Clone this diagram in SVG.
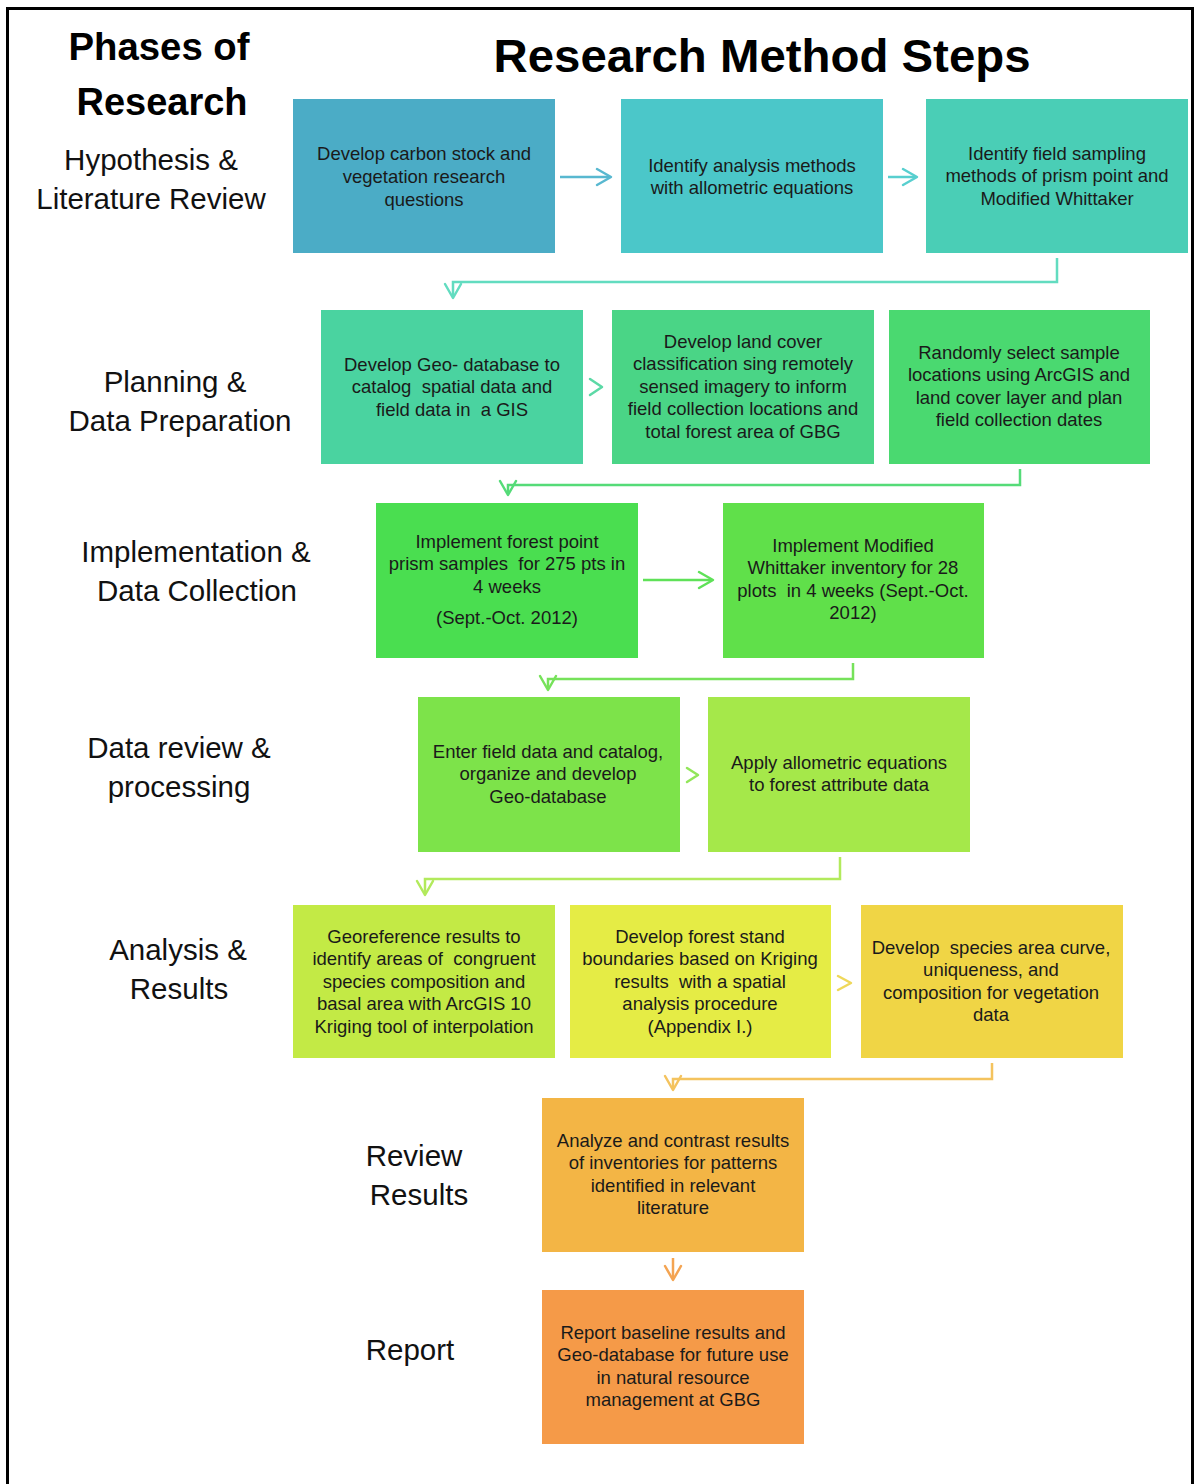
<svg xmlns="http://www.w3.org/2000/svg" width="1195" height="1484" viewBox="0 0 1195 1484">
<defs>
<style>
.title{font-family:"Liberation Sans",Arial,sans-serif;font-weight:bold;fill:#000;}
.phase{font-family:"Liberation Sans",Arial,sans-serif;font-size:29.5px;fill:#111;text-anchor:middle;}
.bt{font-family:"Liberation Sans",Arial,sans-serif;font-size:18.5px;fill:#1a1a1a;text-anchor:middle;white-space:pre;}
.conn{fill:none;stroke-width:2.5;}
.head{fill:none;stroke-width:2.5;stroke-linecap:round;stroke-linejoin:round;}
</style>
</defs>
<rect x="0" y="0" width="1195" height="1484" fill="#ffffff"/>
<rect x="7.5" y="8.5" width="1185" height="1500" fill="none" stroke="#000" stroke-width="3"/>

<g id="titles">
<text class="title" x="159" y="60" font-size="39" text-anchor="middle" textLength="181" lengthAdjust="spacingAndGlyphs">Phases of</text>
<text class="title" x="162" y="115" font-size="39" text-anchor="middle" textLength="171" lengthAdjust="spacingAndGlyphs">Research</text>
<text class="title" x="762" y="72" font-size="47" text-anchor="middle" textLength="537" lengthAdjust="spacingAndGlyphs">Research Method Steps</text>
</g>

<g id="phases">
<text class="phase" x="151" y="170">Hypothesis &amp;</text>
<text class="phase" x="151" y="209">Literature Review</text>
<text class="phase" x="175" y="392">Planning &amp;</text>
<text class="phase" x="180" y="431">Data Preparation</text>
<text class="phase" x="196" y="562">Implementation &amp;</text>
<text class="phase" x="197" y="601">Data Collection</text>
<text class="phase" x="179" y="758">Data review &amp;</text>
<text class="phase" x="179" y="797">processing</text>
<text class="phase" x="178" y="960">Analysis &amp;</text>
<text class="phase" x="179" y="999">Results</text>
<text class="phase" x="414" y="1166">Review</text>
<text class="phase" x="419" y="1205">Results</text>
<text class="phase" x="410" y="1360">Report</text>
</g>

<g id="connectors">
<path class="conn" stroke="#58B8D0" d="M560,177 H610"/>
<path class="head" stroke="#58B8D0" d="M597,169 L611,177 L597,185"/>
<path class="conn" stroke="#58CFCF" d="M888,177 H916"/>
<path class="head" stroke="#58CFCF" d="M903,169 L917,177 L903,185"/>
<path class="conn" stroke="#62DCC0" d="M1057,258 V282 H453 V297"/>
<path class="head" stroke="#62DCC0" d="M445,284 L453,298 L461,284"/>
<path class="head" stroke="#5CD9A6" d="M590,379 L602,387 L590,395"/>
<path class="conn" stroke="#55DB78" d="M1020,469 V485 H508 V494"/>
<path class="head" stroke="#55DB78" d="M500,481 L508,495 L516,481"/>
<path class="conn" stroke="#5FE158" d="M643,580 H712"/>
<path class="head" stroke="#5FE158" d="M699,572 L713,580 L699,588"/>
<path class="conn" stroke="#76E25A" d="M853,663 V679 H548 V689"/>
<path class="head" stroke="#76E25A" d="M540,676 L548,690 L556,676"/>
<path class="head" stroke="#92E65A" d="M687,768 L698,775 L687,782"/>
<path class="conn" stroke="#B2EA5C" d="M840,857 V879 H425 V894"/>
<path class="head" stroke="#B2EA5C" d="M417,881 L425,895 L433,881"/>
<path class="head" stroke="#EFD85A" d="M838,976 L851,983 L838,990"/>
<path class="conn" stroke="#F4C35E" d="M992,1063 V1079 H673 V1089"/>
<path class="head" stroke="#F4C35E" d="M665,1076 L673,1090 L681,1076"/>
<path class="conn" stroke="#F4A452" d="M673,1258 V1279"/>
<path class="head" stroke="#F4A452" d="M665,1266 L673,1280 L681,1266"/>
</g>

<g id="box-a">
<rect x="293" y="99" width="262" height="154" fill="#4BACC6"/>
<text class="bt" x="424" y="160">Develop carbon stock and</text>
<text class="bt" x="424" y="183">vegetation research</text>
<text class="bt" x="424" y="206">questions</text>
</g>
<g id="box-b">
<rect x="621" y="99" width="262" height="154" fill="#4BC7C9"/>
<text class="bt" x="752" y="172">Identify analysis methods</text>
<text class="bt" x="752" y="194">with allometric equations</text>
</g>
<g id="box-c">
<rect x="926" y="99" width="262" height="154" fill="#4ACEB6"/>
<text class="bt" x="1057" y="160">Identify field sampling</text>
<text class="bt" x="1057" y="182">methods of prism point and</text>
<text class="bt" x="1057" y="205">Modified Whittaker</text>
</g>
<g id="box-d">
<rect x="321" y="310" width="262" height="154" fill="#4AD3A0"/>
<text class="bt" x="452" y="371">Develop Geo- database to</text>
<text class="bt" x="452" y="393">catalog  spatial data and</text>
<text class="bt" x="452" y="416">field data in  a GIS</text>
</g>
<g id="box-e">
<rect x="612" y="310" width="262" height="154" fill="#4AD586"/>
<text class="bt" x="743" y="348">Develop land cover</text>
<text class="bt" x="743" y="370">classification sing remotely</text>
<text class="bt" x="743" y="393">sensed imagery to inform</text>
<text class="bt" x="743" y="415">field collection locations and</text>
<text class="bt" x="743" y="438">total forest area of GBG</text>
</g>
<g id="box-f">
<rect x="889" y="310" width="261" height="154" fill="#4AD970"/>
<text class="bt" x="1019" y="359">Randomly select sample</text>
<text class="bt" x="1019" y="381">locations using ArcGIS and</text>
<text class="bt" x="1019" y="404">land cover layer and plan</text>
<text class="bt" x="1019" y="426">field collection dates</text>
</g>
<g id="box-g">
<rect x="376" y="503" width="262" height="155" fill="#4ADE50"/>
<text class="bt" x="507" y="548">Implement forest point</text>
<text class="bt" x="507" y="570">prism samples  for 275 pts in</text>
<text class="bt" x="507" y="593">4 weeks</text>
<text class="bt" x="507" y="624">(Sept.-Oct. 2012)</text>
</g>
<g id="box-h">
<rect x="723" y="503" width="261" height="155" fill="#60E04A"/>
<text class="bt" x="853" y="552">Implement Modified</text>
<text class="bt" x="853" y="574">Whittaker inventory for 28</text>
<text class="bt" x="853" y="597">plots  in 4 weeks (Sept.-Oct.</text>
<text class="bt" x="853" y="619">2012)</text>
</g>
<g id="box-i">
<rect x="418" y="697" width="262" height="155" fill="#7DE34A"/>
<text class="bt" x="548" y="758">Enter field data and catalog,</text>
<text class="bt" x="548" y="780">organize and develop</text>
<text class="bt" x="548" y="803">Geo-database</text>
</g>
<g id="box-j">
<rect x="708" y="697" width="262" height="155" fill="#A5E84A"/>
<text class="bt" x="839" y="769">Apply allometric equations</text>
<text class="bt" x="839" y="791">to forest attribute data</text>
</g>
<g id="box-k">
<rect x="293" y="905" width="262" height="153" fill="#C3EA45"/>
<text class="bt" x="424" y="943">Georeference results to</text>
<text class="bt" x="424" y="965">identify areas of  congruent</text>
<text class="bt" x="424" y="988">species composition and</text>
<text class="bt" x="424" y="1010">basal area with ArcGIS 10</text>
<text class="bt" x="424" y="1033">Kriging tool of interpolation</text>
</g>
<g id="box-l">
<rect x="570" y="905" width="261" height="153" fill="#E5EC45"/>
<text class="bt" x="700" y="943">Develop forest stand</text>
<text class="bt" x="700" y="965">boundaries based on Kriging</text>
<text class="bt" x="700" y="988">results  with a spatial</text>
<text class="bt" x="700" y="1010">analysis procedure</text>
<text class="bt" x="700" y="1033">(Appendix I.)</text>
</g>
<g id="box-m">
<rect x="861" y="905" width="262" height="153" fill="#F0D545"/>
<text class="bt" x="991" y="954">Develop  species area curve,</text>
<text class="bt" x="991" y="976">uniqueness, and</text>
<text class="bt" x="991" y="999">composition for vegetation</text>
<text class="bt" x="991" y="1021">data</text>
</g>
<g id="box-n">
<rect x="542" y="1098" width="262" height="154" fill="#F3B545"/>
<text class="bt" x="673" y="1147">Analyze and contrast results</text>
<text class="bt" x="673" y="1169">of inventories for patterns</text>
<text class="bt" x="673" y="1192">identified in relevant</text>
<text class="bt" x="673" y="1214">literature</text>
</g>
<g id="box-o">
<rect x="542" y="1290" width="262" height="154" fill="#F59A48"/>
<text class="bt" x="673" y="1339">Report baseline results and</text>
<text class="bt" x="673" y="1361">Geo-database for future use</text>
<text class="bt" x="673" y="1384">in natural resource</text>
<text class="bt" x="673" y="1406">management at GBG</text>
</g>
</svg>
